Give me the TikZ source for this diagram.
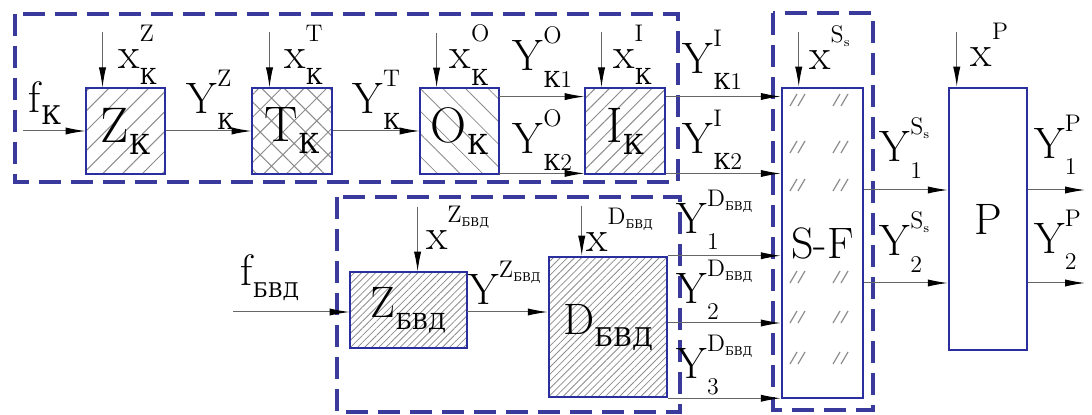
\documentclass[tikz,border=0pt]{standalone}
\usepackage{fontspec}
\newfontfamily\cyr{DejaVu Serif}[Scale=0.92]
\usetikzlibrary{
  arrows.meta,
  calc,
  patterns.meta
}
\definecolor{frame}{HTML}{2A2E9E}
\definecolor{group}{HTML}{3A3A9C}
\definecolor{hatch}{HTML}{8C8C8C}

% script sizes for the signal labels
\newcommand{\ssz}{\fontsize{12}{14}\selectfont}
\newcommand{\tsub}[1]{\raisebox{-2pt}{\fontsize{6.5}{7}\selectfont #1}}
\newcommand{\ysig}[3]{#1$^{\raisebox{6pt}{\ssz #2}}_{\raisebox{-3pt}{\ssz #3}}$}
\newcommand{\xsig}[2]{#1$^{\raisebox{6pt}{\ssz #2}}$}
\newcommand{\bsub}[3][15]{#2\raisebox{-6pt}{\fontsize{#1}{#1}\selectfont #3}}
\newcommand{\K}{{\cyr К}}
\newcommand{\BVD}{{\cyr БВД}}

\begin{document}
\begin{tikzpicture}[
  x=0.5pt, y=-0.5pt,
  font=\fontsize{22}{26}\selectfont,
  blk/.style={draw=frame, line width=1.25pt, inner sep=0pt, pattern color=hatch},
  grp/.style={draw=group, line width=1.6pt, dash pattern=on 11pt off 5pt},
  arr/.style={-{Latex[length=10pt,width=3.6pt,color=black]}, line width=0.5pt, black!60},
  big/.style={font=\fontsize{25}{28}\selectfont}
]
  \useasboundingbox (0,0) rectangle (1092,415);

  % Groups
  \draw[grp] (15,14) rectangle (678,182);
  \draw[grp] (337,197) rectangle (680,412);
  \draw[grp] (773,13) rectangle (873,410);

  % Blocks
  \node[blk, big, minimum width=39.5pt, minimum height=43pt,
        pattern={Lines[angle=45,distance=7pt,line width=0.5pt]}] (zk) at (125.5,131) {\bsub{Z}{\K}};
  \node[blk, big, minimum width=40pt, minimum height=43pt,
        pattern={Hatch[angle=45,distance=8pt,line width=0.5pt]}] (tk) at (292,131) {\bsub{T}{\K}};
  \node[blk, big, minimum width=39.5pt, minimum height=43pt,
        pattern={Lines[angle=-45,distance=8pt,line width=0.4pt]}] (ok) at (459.5,131) {\bsub{O}{\K}};
  \node[blk, big, minimum width=40pt, minimum height=43pt,
        pattern={Lines[angle=45,distance=5pt,line width=0.5pt]}] (ik) at (625,131) {\bsub{I}{\K}};
  \node[blk, minimum width=58.5pt, minimum height=38pt,
        pattern={Lines[angle=45,distance=2.5pt,line width=0.4pt]}] (zb) at (408.5,310) {\bsub[12]{Z}{\BVD}};
  \node[blk, minimum width=59pt, minimum height=70pt,
        pattern={Lines[angle=45,distance=2.5pt,line width=0.4pt]}] (db) at (608,327) {\bsub[14]{D}{\BVD}};
  \node[blk, minimum width=40.5pt, minimum height=155pt] (sf) at (822.5,243) {};
  \node[blk, minimum width=39pt, minimum height=131pt] (pp) at (988,219) {P};

  % S-F marks
  \foreach \r in {100,147,185,277,317,358}
    \foreach \c in {800,843}
      \draw[hatch, line width=0.6pt] (\c-10,\r+6) -- (\c-3,\r-6) (\c-2,\r+6) -- (\c+5,\r-6);
  \node (sft) at (sf) {S-F};

  % Inputs from the left
  \coordinate (fkin) at (23,131);
  \coordinate (fbin) at (233,312);
  \draw[arr] (fkin) -- (zk);
  \draw[arr] (zk) -- (tk);
  \draw[arr] (tk) -- (ok);
  \draw[arr] ($(ok.north east)+(0,9)$) coordinate (o1) -- (o1 -| ik.west);
  \draw[arr] ($(ok.south east)+(0,-1)$) coordinate (o2) -- (o2 -| ik.west);
  \draw[arr] ($(ik.north east)+(0,9)$) coordinate (i1) -- (i1 -| sf.west);
  \draw[arr] ($(ik.south east)+(0,-1)$) coordinate (i2) -- (i2 -| sf.west);
  \draw[arr] (fbin) -- (fbin -| zb.west);
  \draw[arr] ($(zb.east)+(0,2)$) coordinate (z1) -- (z1 -| db.west);
  \draw[arr] (db.north east) -- (db.north east -| sf.west);
  \draw[arr] ($(db.east)+(0,-4)$) coordinate (d2) -- (d2 -| sf.west);
  \draw[arr] (db.south east) -- (db.south east -| sf.west);
  \draw[arr] ($(sf.east)+(0,-53)$) coordinate (s1) -- (s1 -| pp.west);
  \draw[arr] ($(sf.east)+(0,40)$) coordinate (s2) -- (s2 -| pp.west);
  \coordinate (py1) at (1085,190);
  \coordinate (py2) at (1085,283);
  \draw[arr] (py1 -| pp.east) -- (py1);
  \draw[arr] (py2 -| pp.east) -- (py2);

  % Control inputs from above
  \draw[arr] ($(zk.north west)+(17,-55)$) -- ++(0,55);
  \draw[arr] ($(tk.north west)+(18,-55)$) -- ++(0,55);
  \draw[arr] ($(ok.north west)+(17,-55)$) -- ++(0,55);
  \draw[arr] ($(ik.north west)+(17,-55)$) -- ++(0,55);
  \draw[arr] ($(sf.north west)+(18,-55)$) -- ++(0,55);
  \draw[arr] ($(pp.north west)+(9,-55)$) -- ++(0,55);
  \draw[arr] ($(zb.north west)+(68,-65)$) -- ++(0,65);
  \draw[arr] ($(db.north west)+(34,-50)$) -- ++(0,50);

  % Labels
  \node (lfk) at (45,103) {\bsub[14]{f}{\K}};
  \node (lxz) at (138,55) {\ysig{x}{Z}{\K}};
  \node (lxt) at (304,55) {\ysig{x}{T}{\K}};
  \node (lyz) at (211,100) {\ysig{Y}{Z}{\K}};
  \node (lyt) at (377,100) {\ysig{Y}{T}{\K}};
  \node (lxo) at (470,55) {\ysig{x}{O}{\K}};
  \node (lyo1) at (543,57) {\ysig{Y}{O}{\K1}};
  \node (lyo2) at (543,140) {\ysig{Y}{O}{\K2}};
  \node (lxi) at (633,55) {\ysig{x}{I}{\K}};
  \node (lyi1) at (713,60) {\ysig{Y}{I}{\K1}};
  \node (lyi2) at (713,140) {\ysig{Y}{I}{\K2}};
  \node (lxs) at (830,48) {\xsig{x}{S\tsub{s}}};
  \node (lxp) at (990,45) {\xsig{x}{P}};
  \node (lys1) at (905,148) {\ysig{Y}{S\tsub{s}}{1}};
  \node (lys2) at (905,242) {\ysig{Y}{S\tsub{s}}{2}};
  \node (lyp1) at (1058,145) {\ysig{Y}{P}{1}};
  \node (lyp2) at (1058,240) {\ysig{Y}{P}{2}};
  \node (lfb) at (270,278) {\bsub[11]{f}{\BVD}};
  \node (lxzb) at (458,228) {\xsig{x}{Z\tsub{\BVD}}};
  \node (lxdb) at (620,230) {\xsig{x}{D\tsub{\BVD}}};
  \node (lyzb) at (505,283) {\xsig{Y}{Z\tsub{\BVD}}};
  \node (lyd1) at (715,220) {\ysig{Y}{D\tsub{\BVD}}{1}};
  \node (lyd2) at (715,290) {\ysig{Y}{D\tsub{\BVD}}{2}};
  \node (lyd3) at (715,365) {\ysig{Y}{D\tsub{\BVD}}{3}};
\end{tikzpicture}
\end{document}
